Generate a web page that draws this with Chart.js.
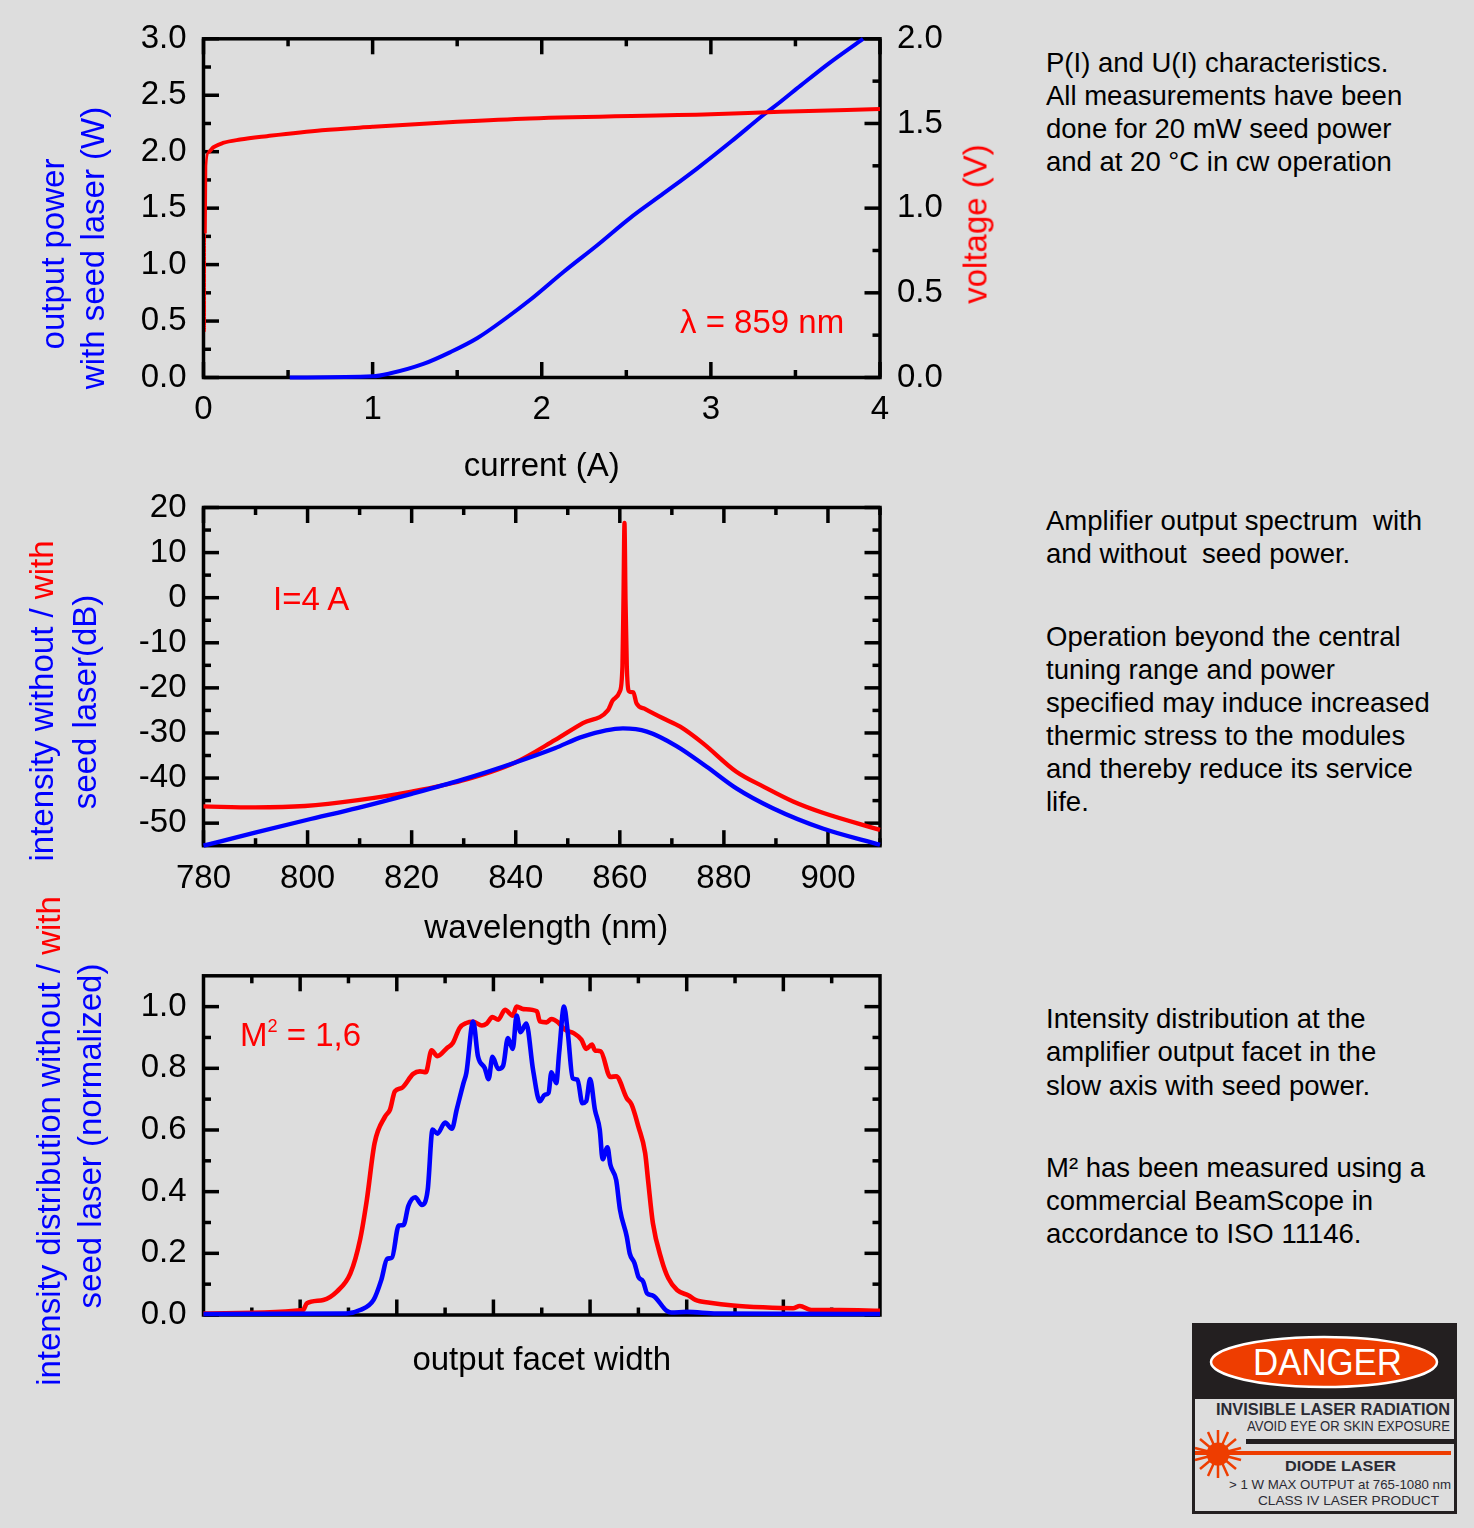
<!DOCTYPE html>
<html>
<head>
<meta charset="utf-8">
<title>Amplifier characteristics</title>
<script src="https://cdn.jsdelivr.net/npm/chart.js@4/dist/chart.umd.min.js"></script>
<style>
  html, body { margin: 0; padding: 0; background: #dddddd; }
  body { position: relative; width: 1474px; height: 1528px; overflow: hidden; font-family: "Liberation Sans", Arial, sans-serif; }
  canvas { position: absolute; left: 0; }
  .txt { position: absolute; white-space: nowrap; transform: translateY(-50%); line-height: 1; }
  .rot { position: absolute; white-space: nowrap; transform: translate(-50%, -50%) rotate(-90deg); font-size: 33px; line-height: 1; }
  .blue { color: #0000ff; }
  .red { color: #ff0000; }
  sup { font-size: 55%; line-height: 0; vertical-align: 0.75em; }
</style>
</head>
<body>
<canvas id="c1" width="1040" height="490" style="top:0"></canvas>
<canvas id="c2" width="1040" height="490" style="top:460px"></canvas>
<canvas id="c3" width="1040" height="480" style="top:920px"></canvas>

<div class="rot blue" style="left:52px;top:254px">output power</div>
<div class="rot blue" style="left:92px;top:248px">with seed laser (W)</div>
<div class="rot red" style="left:975px;top:224px">voltage (V)</div>
<div class="rot blue" style="left:41px;top:701px">intensity without / <span class="red">with</span></div>
<div class="rot blue" style="left:84px;top:702px">seed laser(dB)</div>
<div class="rot blue" style="left:48px;top:1141px">intensity distribution without / <span class="red">with</span></div>
<div class="rot blue" style="left:89px;top:1136px">seed laser (normalized)</div>

<div class="txt red" style="left:680px;top:321px;font-size:33px">λ = 859 nm</div>
<div class="txt red" style="left:273px;top:598px;font-size:33px">I=4 A</div>
<div class="txt red" style="left:240px;top:1034px;font-size:33px">M<sup>2</sup> = 1,6</div>

<svg style="position:absolute;left:1192px;top:1323px" width="265" height="191" font-family="Liberation Sans, Arial, sans-serif">
  <rect x="0" y="0" width="265" height="191" fill="#231f20"/>
  <rect x="3" y="76" width="259" height="112" fill="#dddddd"/>
  <ellipse cx="132" cy="39" rx="113" ry="25" fill="#ee3d00" stroke="#ffffff" stroke-width="2.5"/>
  <text x="61" y="52" font-size="36" fill="#ffffff" textLength="149" lengthAdjust="spacingAndGlyphs">DANGER</text>
  <text x="24" y="92" font-size="16" font-weight="bold" fill="#2a2a33" textLength="234" lengthAdjust="spacingAndGlyphs">INVISIBLE LASER RADIATION</text>
  <text x="55" y="108" font-size="14" fill="#2a2a33" textLength="203" lengthAdjust="spacingAndGlyphs">AVOID EYE OR SKIN EXPOSURE</text>
  <rect x="54" y="116" width="208" height="5" fill="#231f20"/>
  <rect x="3" y="128" width="256" height="4" fill="#ee3d00"/>
  <g stroke="#ee3d00" stroke-width="2.5">
    <line x1="26" y1="107" x2="26" y2="155"/>
    <line x1="16" y1="109" x2="36" y2="153"/>
    <line x1="36" y1="109" x2="16" y2="153"/>
    <line x1="8" y1="116" x2="44" y2="146"/>
    <line x1="44" y1="116" x2="8" y2="146"/>
    <line x1="3" y1="125" x2="49" y2="137"/>
    <line x1="49" y1="125" x2="3" y2="137"/>
  </g>
  <circle cx="26" cy="131" r="11.5" fill="#ee3d00"/>
  <text x="93" y="148" font-size="15" font-weight="bold" fill="#2a2a33" textLength="111" lengthAdjust="spacingAndGlyphs">DIODE LASER</text>
  <text x="37" y="166" font-size="13" fill="#2a2a33" textLength="222" lengthAdjust="spacingAndGlyphs">&gt; 1 W MAX OUTPUT at 765-1080 nm</text>
  <text x="66" y="182" font-size="13.5" fill="#2a2a33" textLength="181" lengthAdjust="spacingAndGlyphs">CLASS IV LASER PRODUCT</text>
</svg>

<script>
// --- panel 1: P(I) and U(I)
const p1XTicks = [0, 1, 2, 3, 4];
const p1XMinor = [0.5, 1.5, 2.5, 3.5];
const p1YTicks = [0, 0.5, 1, 1.5, 2, 2.5, 3];
const p1YMinor = [0.25, 0.75, 1.25, 1.75, 2.25, 2.75];
const p1Y2Ticks = [0, 0.5, 1, 1.5, 2];
const p1Y2Minor = [0.25, 0.75, 1.25, 1.75];
const powerI = [0.51, 1.0, 1.10, 1.30, 1.46, 1.62, 1.79, 1.93, 2.13, 2.33, 2.52, 2.72, 2.92, 3.12, 3.31, 3.41, 3.53, 3.7, 3.9];
const powerW = [0, 0.01, 0.035, 0.12, 0.225, 0.35, 0.527, 0.686, 0.937, 1.174, 1.41, 1.63, 1.853, 2.09, 2.325, 2.44, 2.585, 2.785, 3.0];
const voltI = [0.012, 0.012, 0.015, 0.03, 0.06, 0.115, 0.217, 0.375, 0.7, 1.0, 1.5, 1.93, 3.0, 3.41, 4.0];
const voltV = [0.27, 0.85, 1.25, 1.33, 1.36, 1.385, 1.405, 1.425, 1.46, 1.48, 1.51, 1.53, 1.555, 1.569, 1.585];

// --- panel 2: spectrum
const p2XTicks = [780, 800, 820, 840, 860, 880, 900];
const p2XMinor = [790, 810, 830, 850, 870, 890, 910];
const p2YTicks = [-50, -40, -30, -20, -10, 0, 10, 20];
const p2YMinor = [-45, -35, -25, -15, -5, 5, 15];
const specNoSeedX = [780, 789.9, 799.8, 809.7, 820, 829.6, 839.8, 847.5, 852.9, 860.6, 865.2, 870.9, 876.7, 882.4, 889.4, 899, 910];
const specNoSeedY = [-55, -52.1, -49.3, -46.6, -43.5, -40.4, -36.6, -33.4, -30.8, -29, -29.7, -32.9, -37.5, -42.3, -46.7, -51.2, -54.8];
const specSeedX = [780, 789.9, 799.5, 809.7, 820, 829.6, 839.8, 847.5, 852.9, 857.7, 858.7, 860, 860.5, 860.7, 860.9, 861.1, 861.35, 861.8, 862.6, 863.2, 864.9, 868.4, 871.6, 876, 882.4, 887.6, 893.3, 899, 910];
const specSeedY = [-46.3, -46.5, -46.2, -44.9, -43, -40.6, -36.6, -31.6, -27.8, -25, -22.7, -20.8, -15.3, -0.5, 16.6, -0.5, -15.3, -20.8, -21, -23.4, -24.7, -26.8, -28.6, -32.3, -38.6, -41.9, -45.2, -47.7, -51.5];

// --- panel 3: intensity distribution (x axis in tick divisions, no labels)
const p3XTicks = [1, 2, 3, 4, 5, 6];
const p3XMinor = [0.5, 1.5, 2.5, 3.5, 4.5, 5.5, 6.5];
const p3YTicks = [0, 0.2, 0.4, 0.6, 0.8, 1];
const p3YMinor = [0.1, 0.3, 0.5, 0.7, 0.9];
const beamSeedX = [0, 1.03, 1.07, 1.24, 1.38, 1.52, 1.62, 1.69, 1.77, 1.88, 1.93, 1.98, 2.05, 2.17, 2.24, 2.30, 2.36, 2.42, 2.52, 2.58, 2.65, 2.72, 2.79, 2.88, 2.93, 2.99, 3.05, 3.12, 3.20, 3.24, 3.31, 3.45, 3.48, 3.55, 3.6, 3.67, 3.74, 3.83, 3.91, 3.96, 4.02, 4.05, 4.11, 4.21, 4.27, 4.38, 4.43, 4.5, 4.57, 4.6, 4.65, 4.74, 4.81, 4.9, 5.02, 5.09, 5.24, 5.48, 5.79, 6.1, 6.17, 6.29, 6.58, 7];
const beamSeedY = [0.005, 0.016, 0.038, 0.049, 0.076, 0.135, 0.244, 0.373, 0.557, 0.644, 0.666, 0.725, 0.736, 0.782, 0.79, 0.787, 0.858, 0.839, 0.866, 0.882, 0.931, 0.947, 0.951, 0.939, 0.945, 0.966, 0.958, 0.99, 0.971, 1.0, 0.992, 0.985, 0.952, 0.949, 0.96, 0.949, 0.925, 0.914, 0.893, 0.863, 0.877, 0.858, 0.855, 0.772, 0.774, 0.703, 0.682, 0.611, 0.525, 0.438, 0.298, 0.179, 0.119, 0.081, 0.063, 0.049, 0.04, 0.031, 0.025, 0.022, 0.029, 0.016, 0.016, 0.014];
const beamNoSeedX = [0, 1.48, 1.62, 1.76, 1.84, 1.90, 1.95, 2.02, 2.07, 2.12, 2.19, 2.26, 2.32, 2.37, 2.42, 2.5, 2.57, 2.62, 2.69, 2.72, 2.79, 2.84, 2.91, 2.95, 2.99, 3.05, 3.1, 3.15, 3.2, 3.24, 3.28, 3.34, 3.41, 3.48, 3.53, 3.57, 3.6, 3.65, 3.68, 3.73, 3.77, 3.82, 3.87, 3.92, 3.96, 4.0, 4.05, 4.1, 4.13, 4.18, 4.21, 4.27, 4.31, 4.38, 4.41, 4.46, 4.5, 4.55, 4.59, 4.65, 4.79, 4.84, 5.0, 5.31, 7];
const beamNoSeedY = [0.003, 0.005, 0.016, 0.049, 0.114, 0.182, 0.186, 0.29, 0.292, 0.354, 0.382, 0.357, 0.406, 0.601, 0.588, 0.624, 0.604, 0.666, 0.752, 0.785, 0.952, 0.839, 0.801, 0.765, 0.837, 0.798, 0.808, 0.898, 0.863, 0.971, 0.917, 0.945, 0.795, 0.693, 0.714, 0.72, 0.787, 0.752, 0.85, 1.0, 0.914, 0.768, 0.763, 0.687, 0.693, 0.765, 0.666, 0.601, 0.505, 0.544, 0.487, 0.438, 0.341, 0.254, 0.2, 0.168, 0.124, 0.108, 0.07, 0.063, 0.014, 0.008, 0.01, 0.005, 0.003];

// --- text column on the right
const notes = [
  [63, "P(I) and U(I) characteristics."],
  [96, "All measurements have been"],
  [129, "done for 20 mW seed power"],
  [162, "and at 20 °C in cw operation"],
  [521, "Amplifier output spectrum  with"],
  [554, "and without  seed power."],
  [637, "Operation beyond the central"],
  [670, "tuning range and power"],
  [703, "specified may induce increased"],
  [736, "thermic stress to the modules"],
  [769, "and thereby reduce its service"],
  [802, "life."],
  [1019, "Intensity distribution at the"],
  [1052, "amplifier output facet in the"],
  [1086, "slow axis with seed power."],
  [1168, "M² has been measured using a"],
  [1201, "commercial BeamScope in"],
  [1234, "accordance to ISO 11146."]
];
notes.forEach(n => {
  const d = document.createElement("div");
  d.className = "txt";
  d.style.cssText = "left:1046px;top:" + n[0] + "px;font-size:27.5px;color:#000;white-space:pre";
  d.textContent = n[1];
  document.body.appendChild(d);
});

const FONT = "'Liberation Sans', Arial, sans-serif";
const BLUE = "#0000ff";
const RED = "#ff0000";
const pts = (xs, ys) => xs.map((x, i) => ({ x: x, y: ys[i] }));

// frame and inward ticks on all four sides, positions come from the scales
const frameTicks = {
  id: "frameTicks",
  beforeDatasetsDraw(chart, args, opts) {
    const a = chart.chartArea, c = chart.ctx;
    c.save();
    c.strokeStyle = "#000";
    c.lineWidth = 3.5;
    const tick = (x1, y1, x2, y2) => { c.beginPath(); c.moveTo(x1, y1); c.lineTo(x2, y2); c.stroke(); };
    const xTicks = (vals, len) => vals.forEach(v => {
      const p = chart.scales.x.getPixelForValue(v);
      tick(p, a.bottom, p, a.bottom - len);
      tick(p, a.top, p, a.top + len);
    });
    const yTicks = (scale, vals, len, right) => vals.forEach(v => {
      const p = scale.getPixelForValue(v);
      const x0 = right ? a.right : a.left;
      tick(x0, p, right ? x0 - len : x0 + len, p);
    });
    xTicks(opts.xMajor, 15.5);
    xTicks(opts.xMinor, 7.5);
    yTicks(chart.scales.y, opts.yMajor, 15.5, false);
    yTicks(chart.scales.y, opts.yMinor, 7.5, false);
    const rs = chart.scales.y2 || chart.scales.y;
    yTicks(rs, opts.rMajor || opts.yMajor, 15.5, true);
    yTicks(rs, opts.rMinor || opts.yMinor, 7.5, true);
    c.strokeRect(a.left, a.top, a.right - a.left, a.bottom - a.top);
    c.restore();
  }
};

function xAxis(min, max, vals, height, title, titlePad, showLabels) {
  return {
    type: "linear", min: min, max: max,
    afterBuildTicks: s => { s.ticks = vals.map(v => ({ value: v })); },
    afterFit: s => { s.height = height; },
    grid: { display: false, drawTicks: false },
    border: { display: false },
    ticks: { display: showLabels, padding: 13, color: "#000", maxRotation: 0, autoSkip: false, font: { family: FONT, size: 33 } },
    title: { display: true, text: title, color: "#000", font: { family: FONT, size: 33 }, padding: { top: 0, bottom: titlePad } }
  };
}

function yAxis(min, max, vals, width, pos, digits) {
  return {
    type: "linear", min: min, max: max, position: pos,
    afterBuildTicks: s => { s.ticks = vals.map(v => ({ value: v })); },
    afterFit: s => { s.width = width; },
    grid: { display: false, drawTicks: false },
    border: { display: false },
    ticks: { padding: 17, color: "#000", autoSkip: false, font: { family: FONT, size: 33 },
      callback: v => v.toFixed(digits) }
  };
}

function line(xs, ys, color, width, extra) {
  return Object.assign({ data: pts(xs, ys), borderColor: color, borderWidth: width, pointRadius: 0, cubicInterpolationMode: "monotone", clip: false, fill: false }, extra || {});
}

function baseOptions(top, right, scales, ticks) {
  return {
    responsive: false, animation: false, events: [],
    layout: { padding: { top: top, right: right, left: 0, bottom: 0 } },
    plugins: { legend: { display: false }, tooltip: { enabled: false }, frameTicks: ticks },
    scales: scales
  };
}

new Chart(document.getElementById("c1"), {
  type: "line",
  data: { datasets: [
    line(voltI, voltV, RED, 4, { yAxisID: "y2", segment: { borderWidth: ctx => ctx.p0DataIndex === 0 ? 1 : (ctx.p0DataIndex < 3 ? 2.5 : 4) } }),
    line(powerI, powerW, BLUE, 4, { yAxisID: "y" })
  ] },
  options: baseOptions(38.8, 0, {
    x: xAxis(0, 4, p1XTicks, 112.5, "current (A)", 3, true),
    y: yAxis(0, 3, p1YTicks, 203.5, "left", 1),
    y2: yAxis(0, 2, p1Y2Ticks, 160, "right", 1)
  }, { xMajor: p1XTicks, xMinor: p1XMinor, yMajor: p1YTicks, yMinor: p1YMinor, rMajor: p1Y2Ticks, rMinor: p1Y2Minor }),
  plugins: [frameTicks]
});

new Chart(document.getElementById("c2"), {
  type: "line",
  data: { datasets: [
    line(specNoSeedX, specNoSeedY, BLUE, 4.3),
    line(specSeedX, specSeedY, RED, 4.3)
  ] },
  options: baseOptions(47.5, 160, {
    x: xAxis(780, 910, p2XTicks, 104.3, "\u00a0wavelength (nm)", 1, true),
    y: yAxis(-55, 20, p2YTicks, 203.5, "left", 0)
  }, { xMajor: p2XTicks, xMinor: p2XMinor, yMajor: p2YTicks, yMinor: p2YMinor }),
  plugins: [frameTicks]
});

new Chart(document.getElementById("c3"), {
  type: "line",
  data: { datasets: [
    line(beamNoSeedX, beamNoSeedY, BLUE, 4.6),
    line(beamSeedX, beamSeedY, RED, 4.6)
  ] },
  options: baseOptions(55.8, 160, {
    x: xAxis(0, 7, p3XTicks, 85, "output facet width", 19, false),
    y: yAxis(0, 1.1, p3YTicks, 203.5, "left", 1)
  }, { xMajor: p3XTicks, xMinor: p3XMinor, yMajor: p3YTicks, yMinor: p3YMinor }),
  plugins: [frameTicks]
});
</script>
</body>
</html>
